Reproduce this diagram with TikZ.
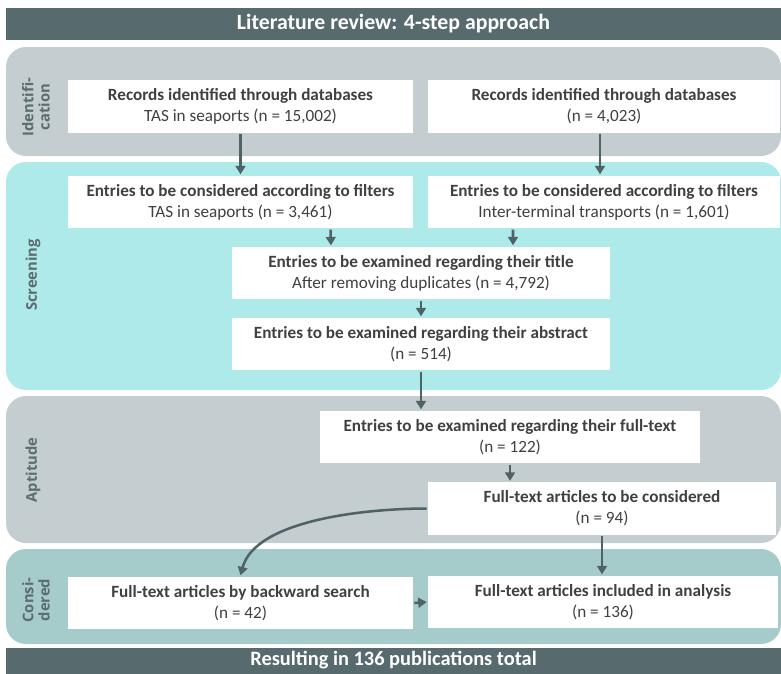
\documentclass[tikz,border=0pt]{standalone}
\usepackage{fontspec}
\setmainfont{Carlito}
\newfontfamily\phasefont{Open Sans}
\usepackage{xcolor}
\usetikzlibrary{arrows.meta,positioning}

\definecolor{banner}{HTML}{576B6F}
\definecolor{greyband}{HTML}{C4CDD0}
\definecolor{cyanband}{HTML}{AEEAEA}
\definecolor{tealband}{HTML}{A5CBCA}
\definecolor{flow}{HTML}{4F6367}
\definecolor{phasetext}{HTML}{5C6C70}
\definecolor{boxtext}{HTML}{404040}

\begin{document}
\begin{tikzpicture}[
  x=0.025cm, y=-0.025cm,
  >={Triangle[length=6pt,width=7pt]},
  band/.style={rounded corners=0.5cm, draw=none},
  entry/.style={fill=white, align=center, inner sep=0pt, text=boxtext,
    font=\fontsize{12.2}{15}\selectfont, minimum height=1.32cm},
  phase/.style={rotate=90, align=center, text=phasetext,
    font=\phasefont\bfseries\fontsize{10.5}{11.5}\selectfont},
  headline/.style={text=white, font=\bfseries\fontsize{15.5}{17}\selectfont},
  every path/.style={line width=1.8pt},
  flowline/.style={draw=flow, ->}
]
\useasboundingbox (0,0) rectangle (781,673);

% bands
\fill[banner] (6,8) rectangle (781,40);
\fill[band, greyband] (6,47) rectangle (781,156);
\fill[band, cyanband] (6,162) rectangle (781,390);
\fill[band, greyband] (6,396) rectangle (781,543);
\fill[band, tealband] (6,549) rectangle (781,644);
\fill[banner] (6,648) rectangle (781,680);

\node[headline] (top) at (393.5,24) {Literature review: 4-step approach};
\node[headline, font=\bfseries\fontsize{14.5}{16}\selectfont] (bottom) at (393.5,660)
  {Resulting in 136 publications total};

% phase labels
\node[phase] (pid) at (36,107) {Identifi-\\cation};
\node[phase] (psc) at (33,275) {Screening};
\node[phase] (pap) at (33,470) {Aptitude};
\node[phase] (pco) at (36,600) {Consi-\\dered};

% entries
\node[entry, minimum width=8.625cm] (rec1) at (240.5,106.5)
  {\textbf{Records identified through databases}\\TAS in seaports (n = 15,002)};
\node[entry, minimum width=8.8cm] (rec2) at (604,106.5)
  {\textbf{Records identified through databases}\\(n = 4,023)};
\node[entry, minimum width=8.625cm] (fil1) at (240.5,202)
  {\textbf{Entries to be considered according to filters}\\TAS in seaports (n = 3,461)};
\node[entry, minimum width=8.8cm] (fil2) at (604,202)
  {\textbf{Entries to be considered according to filters}\\Inter-terminal transports (n = 1,601)};
\node[entry, minimum width=9.45cm] (tit) at (421,273)
  {\textbf{Entries to be examined regarding their title}\\After removing duplicates (n = 4,792)};
\node[entry, minimum width=9.45cm] (abs) at (421,344)
  {\textbf{Entries to be examined regarding their abstract}\\(n = 514)};
\node[entry, minimum width=9.5cm] (full) at (510,437)
  {\textbf{Entries to be examined regarding their full-text}\\(n = 122)};
\node[entry, minimum width=8.7cm] (cons) at (602,508.5)
  {\textbf{Full-text articles to be considered}\\(n = 94)};
\node[entry, minimum width=8.625cm] (back) at (240.5,603)
  {\textbf{Full-text articles by backward search}\\(n = 42)};
\node[entry, minimum width=8.75cm] (incl) at (603,602)
  {\textbf{Full-text articles included in analysis}\\(n = 136)};

% flow
\path[flowline] (rec1.south) -- (fil1.north);
\path[flowline] ([xshift=-0.1cm]rec2.south) -- ([xshift=-0.1cm]fil2.north);
\path[flowline] ([xshift=2.25cm]fil1.south) -- ([xshift=-2.25cm]tit.north);
\path[flowline] ([xshift=-2.275cm]fil2.south) -- ([xshift=2.3cm]tit.north);
\path[flowline] (tit.south) -- (abs.north);
\path[flowline] (abs.south) -- (abs.south |- full.north);
\path[flowline] (full.south) -- (full.south |- cons.north);
\path[flowline] (cons.south) -- (cons.south |- incl.north);
\path[flowline] (cons.west) to[out=180, in=75, looseness=0.75] (back.north);
\path[flowline] (back.east) -- (incl.west);
\end{tikzpicture}
\end{document}
